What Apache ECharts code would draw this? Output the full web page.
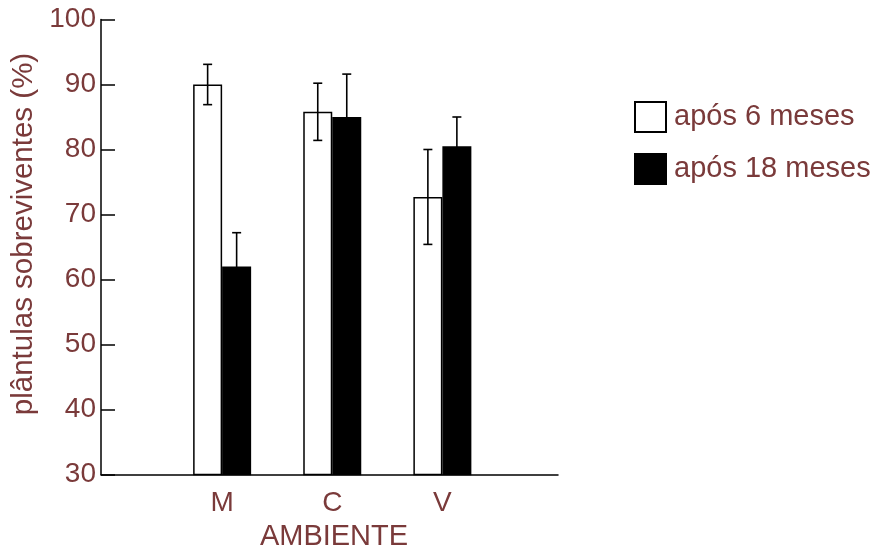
<!DOCTYPE html>
<html>
<head>
<meta charset="utf-8">
<script src="https://cdn.jsdelivr.net/npm/echarts@6/dist/echarts.min.js"></script>
<style>
html,body{margin:0;padding:0;background:#fff;}
#chart{width:876px;height:547px;}
</style>
</head>
<body>
<div id="chart"></div>
<script>
const categories = ['M', 'C', 'V'];
const seriesNames = ['após 6 meses', 'após 18 meses'];
const values6 = [90, 85.8, 72.7];
const err6 = [3.1, 4.4, 7.3];
const values18 = [62, 85, 80.5];
const err18 = [5.2, 6.6, 4.5];
const yTicks = [30, 40, 50, 60, 70, 80, 90, 100];

const TXT = '#7a3a3a';
const FONT = '"Liberation Sans", Arial, sans-serif';
const BAR_W = 29;

const pos = categories.map((c, i) => i + 1);

function barData(vals) { return vals.map((v, i) => [pos[i], v]); }
function errData(vals, errs, s) { return vals.map((v, i) => [pos[i], v - errs[i], v + errs[i], s]); }

function renderErr(params, api) {
  const x = api.value(0), lo = api.value(1), hi = api.value(2), s = api.value(3);
  const off = (s === 0 ? -1 : 1) * BAR_W / 2;
  const pHi = api.coord([x, hi]);
  const pLo = api.coord([x, lo]);
  const cx = pHi[0] + off;
  const cap = 4.5;
  const st = { stroke: '#000', lineWidth: 1.6 };
  return {
    type: 'group',
    children: [
      { type: 'line', shape: { x1: cx, y1: pHi[1], x2: cx, y2: pLo[1] }, style: st },
      { type: 'line', shape: { x1: cx - cap, y1: pHi[1], x2: cx + cap, y2: pHi[1] }, style: st },
      { type: 'line', shape: { x1: cx - cap, y1: pLo[1], x2: cx + cap, y2: pLo[1] }, style: st }
    ]
  };
}

const chart = echarts.init(document.getElementById('chart'));
chart.setOption({
  animation: false,
  backgroundColor: '#fff',
  textStyle: { fontFamily: FONT },
  grid: { left: 101, right: 318, top: 19.5, bottom: 72.5, containLabel: false, outerBoundsMode: 'none' },
  legend: {
    orient: 'vertical',
    left: 629,
    top: 96,
    itemWidth: 31,
    itemHeight: 30,
    itemGap: 20,
    icon: 'rect',
    data: seriesNames,
    textStyle: { fontSize: 29, color: TXT, fontFamily: FONT, padding: [0, 0, 0, 3] }
  },
  xAxis: {
    type: 'value',
    min: -0.1,
    max: 4.05,
    name: 'AMBIENTE',
    nameLocation: 'middle',
    nameGap: 44,
    nameTextStyle: { fontSize: 29, color: TXT, fontFamily: FONT, padding: [0, 0, 0, 9] },
    axisLine: { show: true, onZero: false, lineStyle: { color: '#000', width: 1.5 } },
    axisTick: { show: false },
    splitLine: { show: false },
    axisLabel: {
      customValues: pos,
      formatter: v => categories[Math.round(v) - 1] || '',
      fontSize: 28,
      color: TXT,
      fontFamily: FONT,
      margin: 15
    }
  },
  yAxis: {
    type: 'value',
    min: yTicks[0],
    max: yTicks[yTicks.length - 1],
    interval: 10,
    name: 'plântulas sobreviventes (%)',
    nameLocation: 'middle',
    nameGap: 41,
    nameTextStyle: { fontSize: 29.5, color: TXT, fontFamily: FONT, padding: [0, 0, 0, 26] },
    axisLine: { show: true, onZero: false, lineStyle: { color: '#000', width: 1.5 } },
    axisTick: { show: true, inside: true, length: 14, lineStyle: { color: '#000', width: 1.5 } },
    splitLine: { show: false },
    axisLabel: { fontSize: 28, color: TXT, fontFamily: FONT, margin: 5 }
  },
  series: [
    {
      name: seriesNames[0],
      type: 'bar',
      barWidth: BAR_W,
      barGap: '0%',
      data: barData(values6),
      itemStyle: { color: '#fff', borderColor: '#000', borderWidth: 1.5 },
      z: 2
    },
    {
      name: seriesNames[1],
      type: 'bar',
      barWidth: BAR_W,
      barGap: '0%',
      data: barData(values18),
      itemStyle: { color: '#000', borderColor: '#000', borderWidth: 1.5 },
      z: 2
    },
    {
      type: 'custom',
      renderItem: renderErr,
      data: errData(values6, err6, 0).concat(errData(values18, err18, 1)),
      encode: { x: 0, y: [1, 2] },
      z: 5,
      silent: true
    }
  ]
});
</script>
</body>
</html>
